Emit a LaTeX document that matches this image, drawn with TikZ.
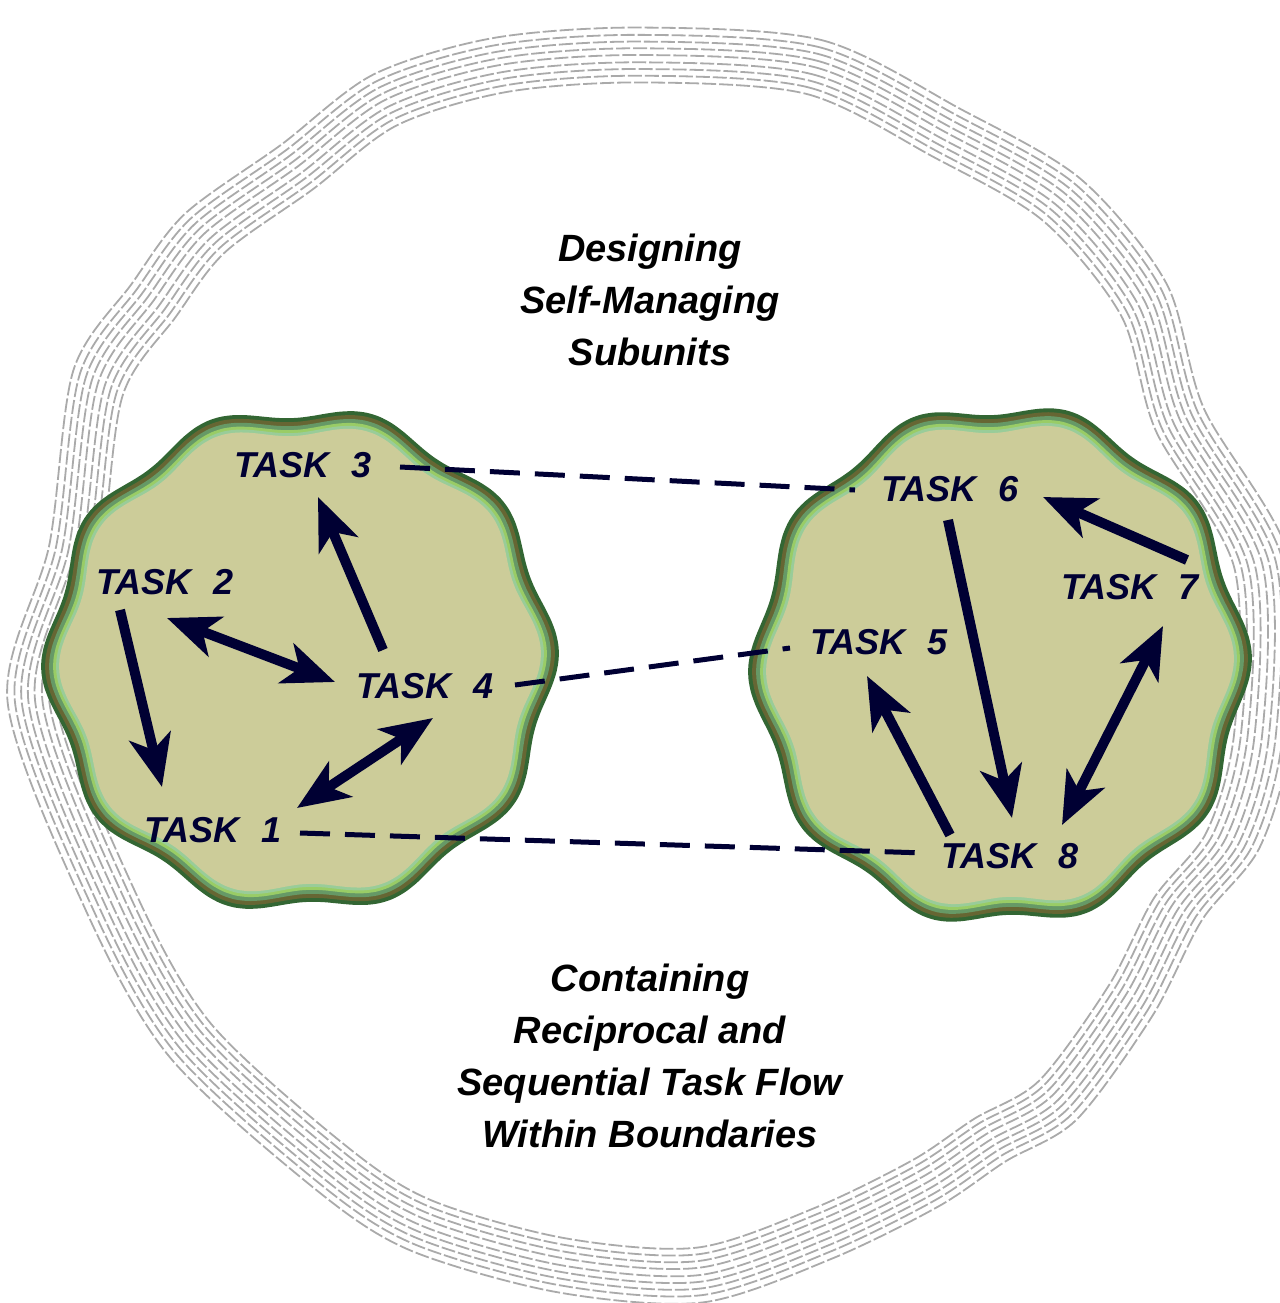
\documentclass[tikz,border=0pt]{standalone}
\usepackage{fontspec}
\setmainfont{Liberation Sans}
\usetikzlibrary{arrows.meta,calc}
\definecolor{dkgreen}{HTML}{336633}
\definecolor{olivebr}{HTML}{666633}
\definecolor{midgreen}{HTML}{669966}
\definecolor{yelgreen}{HTML}{99CC66}
\definecolor{palegreen}{HTML}{99CC99}
\definecolor{khaki}{HTML}{CCCC99}
\definecolor{navy}{HTML}{000033}
\definecolor{ringgray}{HTML}{AAAAAA}
% scalloped blob: centre x, centre y, radius x, radius y, colour
\newcommand{\blob}[5]{\fill[#5] plot[domain=0:357,samples=120,smooth cycle] ({#1+(#3+7*cos(10*\x+20))*cos(\x)},{#2+(#4+7*cos(10*\x+20))*sin(\x)});}
\tikzset{
  task/.style={font=\fontsize{36}{40}\selectfont\bfseries\itshape, text=navy, inner sep=0pt},
  title/.style={font=\fontsize{38}{52}\selectfont\bfseries\itshape, align=center, inner sep=0pt},
  flow/.style={line width=10pt, draw=navy, -{Stealth[length=52pt,width=42pt,inset=14pt]}},
  both/.style={line width=10pt, draw=navy, {Stealth[length=52pt,width=42pt,inset=14pt]}-{Stealth[length=52pt,width=42pt,inset=14pt]}},
  link/.style={line width=5pt, draw=navy, dash pattern=on 30pt off 15pt},
  ring/.style={draw=ringgray, line width=1.8pt, dash pattern=on 14pt off 3pt}
}
\begin{document}
\begin{tikzpicture}[x=1pt,y=-1pt]
\useasboundingbox (0,0) rectangle (1279,1303);
% outer boundary
\foreach \s in {0.955,0.966,0.977,0.988,1.0,1.011,1.022,1.033,1.045}{
\begin{scope}[shift={(645,665)},scale=\s,shift={(-645,-665)}]
\draw[ring] plot[smooth cycle] coordinates {(640,55) (814,67) (947,133) (1062,200) (1144,300) (1180,420) (1262,563) (1262,736) (1233,840) (1178,909) (1131,1000) (1058,1100) (990,1140) (926,1183) (824,1233) (700,1275) (560,1265) (420,1225) (330,1167) (190,1040) (110,900) (35,700) (75,550) (98,383) (154,300) (205,233) (297,167) (385,100) (500,65)};
\end{scope}
}
% subunits
\blob{300}{660}{252}{249}{dkgreen}
\blob{300}{660}{248}{245}{olivebr}
\blob{300}{660}{244}{241}{midgreen}
\blob{300}{660}{240}{237}{yelgreen}
\blob{300}{660}{237}{234}{palegreen}
\blob{300}{660}{234}{231}{khaki}
\blob{1000}{665}{245}{257}{dkgreen}
\blob{1000}{665}{241}{253}{olivebr}
\blob{1000}{665}{237}{249}{midgreen}
\blob{1000}{665}{233}{245}{yelgreen}
\blob{1000}{665}{230}{242}{palegreen}
\blob{1000}{665}{227}{239}{khaki}
% labels
\node[title] (top) at (650,300) {Designing\\Self-Managing\\Subunits};
\node[title] (bottom) at (650,1056) {Containing\\Reciprocal and\\Sequential Task Flow\\Within Boundaries};
\node[task] (t1) at (213,830) {TASK\hspace{0.6em}1};
\node[task] (t2) at (165,582) {TASK\hspace{0.6em}2};
\node[task] (t3) at (303,465) {TASK\hspace{0.6em}3};
\node[task] (t4) at (425,686) {TASK\hspace{0.6em}4};
\node[task] (t5) at (879,642) {TASK\hspace{0.6em}5};
\node[task] (t6) at (950,489) {TASK\hspace{0.6em}6};
\node[task] (t7) at (1130,587) {TASK\hspace{0.6em}7};
\node[task] (t8) at (1010,856) {TASK\hspace{0.6em}8};
% links between subunits
\draw[link] ($(t3)+(97,2)$) -- ($(t6)+(-95,1)$);
\draw[link] ($(t4)+(90,-1)$) -- ($(t5)+(-89,6)$);
\draw[link] ($(t1)+(87,3)$) -- ($(t8)+(-85,-3)$);
% task flow
\draw[flow] ($(t4)+(-42,-36)$) -- ($(t3)+(15,32)$);
\draw[both] ($(t2)+(2,36)$) -- ($(t4)+(-90,-4)$);
\draw[flow] ($(t2)+(-45,28)$) -- ($(t1)+(-51,-43)$);
\draw[both] ($(t1)+(84,-22)$) -- ($(t4)+(8,32)$);
\draw[flow] ($(t7)+(57,-27)$) -- ($(t6)+(93,8)$);
\draw[flow] ($(t6)+(-2,31)$) -- ($(t8)+(2,-38)$);
\draw[flow] ($(t8)+(-60,-21)$) -- ($(t5)+(-12,34)$);
\draw[both] ($(t8)+(52,-31)$) -- ($(t7)+(33,39)$);
\end{tikzpicture}
\end{document}
